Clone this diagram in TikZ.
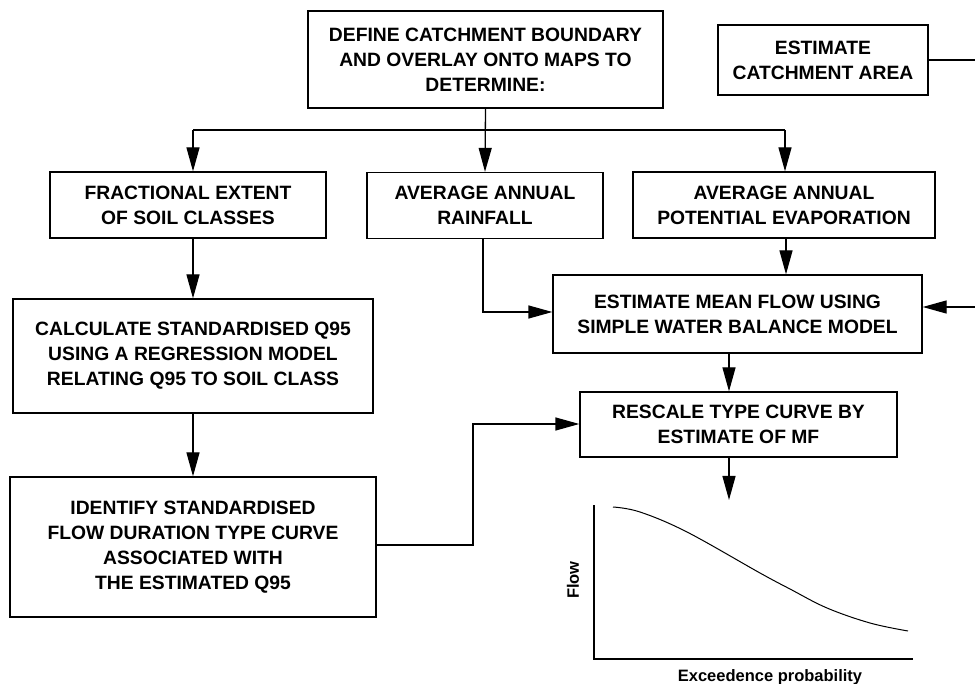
\documentclass[tikz,border=0pt]{standalone}
\usepackage{fontspec}
\setmainfont{Liberation Sans}
\usetikzlibrary{arrows.meta,calc}
\begin{document}
\begin{tikzpicture}[x=1pt,y=-1pt,
  box/.style={draw, line width=1.3pt, inner sep=0pt, align=center,
    font=\fontsize{19.3}{25}\selectfont\bfseries},
  conn/.style={line width=1.3pt},
  arr/.style={line width=1.3pt, -{Triangle[length=24pt,width=13pt]}},
  lab/.style={font=\fontsize{16.5}{19}\selectfont\bfseries, inner sep=0pt}]
\useasboundingbox (0,0) rectangle (975,684);
% boxes
\node[box, minimum width=355pt, minimum height=97pt] (define) at (485.5,59.5)
  {DEFINE CATCHMENT BOUNDARY\\AND OVERLAY ONTO MAPS TO\\DETERMINE:};
\node[box, minimum width=210pt, minimum height=70pt] (area) at (823,60)
  {ESTIMATE\\CATCHMENT AREA};
\node[box, minimum width=276pt, minimum height=66pt] (frac) at (188,205)
  {FRACTIONAL EXTENT\\OF SOIL CLASSES};
\node[box, minimum width=236pt, minimum height=66pt] (rain) at (485,205.5)
  {AVERAGE ANNUAL\\RAINFALL};
\node[box, minimum width=302pt, minimum height=66pt] (evap) at (784,205)
  {AVERAGE ANNUAL\\POTENTIAL EVAPORATION};
\node[box, minimum width=369pt, minimum height=78pt] (meanflow) at (737.5,314)
  {ESTIMATE MEAN FLOW USING\\SIMPLE WATER BALANCE MODEL};
\node[box, minimum width=360pt, minimum height=114pt] (calc) at (193,356)
  {CALCULATE STANDARDISED Q95\\USING A REGRESSION MODEL\\RELATING Q95 TO SOIL CLASS};
\node[box, minimum width=317pt, minimum height=65pt] (rescale) at (738.5,424.5)
  {RESCALE TYPE CURVE BY\\ESTIMATE OF MF};
\node[box, minimum width=366pt, minimum height=140pt] (ident) at (193,547)
  {IDENTIFY STANDARDISED\\FLOW DURATION TYPE CURVE\\ASSOCIATED WITH\\THE ESTIMATED Q95};
% coordinates
\coordinate (jl) at (193,130);
\coordinate (jr) at (785,130);
\coordinate (rb) at (483,312);
\coordinate (ae) at (975,60);
\coordinate (re) at (975,307);
\coordinate (k1) at (473,545);
\coordinate (k2) at (473,424);
\coordinate (mx) at (729,0);
\coordinate (ex) at (786,0);
\coordinate (gtop) at (729,500);
% connectors
\draw[arr] (define.south) -- (rain.north);
\draw[conn] (jl) -- (jr);
\draw[arr] (jl) -- (jl |- frac.north);
\draw[arr] (jr) -- (jr |- evap.north);
\draw[arr] (jl |- frac.south) -- (jl |- calc.north);
\draw[arr] (jl |- calc.south) -- (jl |- ident.north);
\draw[arr] (rb |- rain.south) -- (rb) -- (rb -| meanflow.west);
\draw[arr] (ex |- evap.south) -- (ex |- meanflow.north);
\draw[conn] (area.east) -- (ae);
\draw[arr] (re) -- (re -| meanflow.east);
\draw[arr] (mx |- meanflow.south) -- (mx |- rescale.north);
\draw[arr] (k1 -| ident.east) -- (k1) -- (k2) -- (k2 -| rescale.west);
\draw[arr] (mx |- rescale.south) -- (gtop);
% graph
\coordinate (go) at (594,659);
\draw[line width=1.6pt] (594,505) -- (go) -- (913,659);
\draw[line width=1pt] plot[smooth, tension=0.6] coordinates
  {(613,507) (640,512) (687,532) (760,573) (790,589) (827,608) (870,623) (908,631)};
\node[lab, rotate=90] (flowlab) at (573,580) {Flow};
\node[lab] (exlab) at (770,677) {Exceedence probability};
\end{tikzpicture}
\end{document}
